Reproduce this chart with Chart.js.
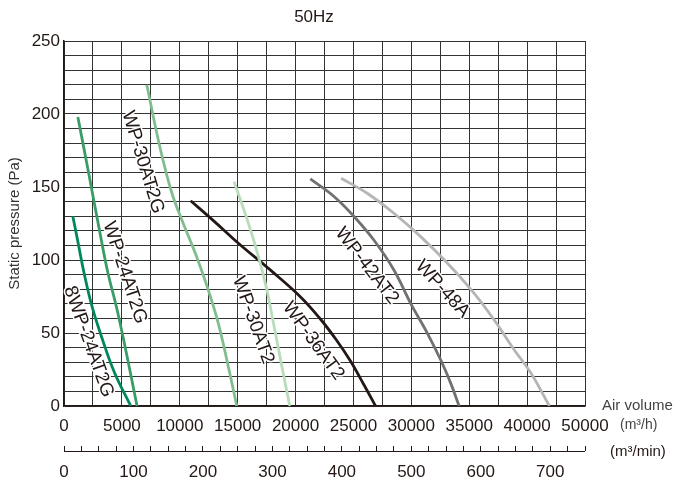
<!DOCTYPE html>
<html><head><meta charset="utf-8">
<script src="https://cdn.jsdelivr.net/npm/chart.js@4/dist/chart.umd.min.js"></script>
<style>html,body{margin:0;padding:0;background:#fff}#wrap{width:680px;height:481px}</style>
</head><body><div id="wrap"><canvas id="c" width="680" height="481"></canvas></div>
<script>
const FONT = '"Liberation Sans", Arial, sans-serif';
const chartTitle = '50Hz';
const yAxisTitle = 'Static pressure (Pa)';
const xAxisTitle = 'Air volume';
const xUnit = '(m³/h)';
const x2Unit = '(m³/min)';
const xTickLabels = ['0','5000','10000','15000','20000','25000','30000','35000','40000','50000'];
const x2TickLabels = ['0','100','200','300','400','500','600','700'];
const yTickLabels = ['0','50','100','150','200','250'];

const seriesNames = ['8WP-24AT2G','WP-24AT2G','WP-30AT2G','WP-30AT2','WP-36AT2','WP-42AT2','WP-48A'];
// [air volume m3/h, static pressure Pa]
const s8WP24AT2G = [[760,130],[1170,113.7],[1733,91.1],[2426,68],[3336,45.2],[4376,22.6],[5763,0]];
const sWP24AT2G = [[1196,198],[2166,158],[3224,113.7],[3796,91.1],[4524,68],[5156,45.2],[5737,22.6],[6309,0]];
const sWP30AT2G = [[7150,220],[8275,177.6],[9316,145.9],[10295,125.2],[11456,102.3],[12461,79.5],[13328,56.6],[14194,26.9],[14922,0]];
const sWP30AT2 = [[14690,153.6],[15928,125.2],[16795,102.3],[17523,79.5],[18095,56.6],[18823,26.9],[19498,0]];
const sWP36AT2 = [[10937,140.6],[12999,126.3],[15062,111.5],[17809,93.2],[20409,74.9],[22142,59.6],[23528,45.2],[24741,30.8],[25868,15.1],[26908,0]];
const sWP42AT2 = [[21275,155.5],[23294,143.7],[25028,130],[26761,113.7],[28494,93.2],[29941,70.3],[31388,49.8],[32541,31.5],[33408,15.5],[34127,0]];
const sWP48A = [[23935,156],[26188,145.7],[28494,132],[30807,116],[33121,97.8],[35426,77.2],[37159,58.9],[38893,38.4],[40339,22.4],[41925,0]];
const seriesData = [s8WP24AT2G, sWP24AT2G, sWP30AT2G, sWP30AT2, sWP36AT2, sWP42AT2, sWP48A];
const seriesColors = ['#00875a','#3a9c67','#80be8f','#b9ddba','#231815','#717171','#b5b5b5'];

// curve label anchors (data coords) and rotation in degrees
const labelAnchors = [[2123,44],[5243,91.4],[6803,167],[16335,58.9],[21535,44.5],[26165,95.9],[32688,80.1]];
const labelAngles = [70.3,71.8,73,70.4,54,52.2,47.6];

const extras = {
  id: 'extras',
  afterDatasetsDraw(chart) {
    const ctx = chart.ctx;
    const xs = chart.scales.x, ys = chart.scales.y;
    ctx.save();
    ctx.font = '19px ' + FONT;
    ctx.textAlign = 'center';
    ctx.textBaseline = 'middle';
    seriesNames.forEach((n, i) => {
      const px = xs.getPixelForValue(labelAnchors[i][0]);
      const py = ys.getPixelForValue(labelAnchors[i][1]);
      ctx.save();
      ctx.translate(px, py);
      ctx.rotate(labelAngles[i] * Math.PI / 180);
      ctx.lineWidth = 3;
      ctx.strokeStyle = '#fff';
      ctx.lineJoin = 'round';
      ctx.strokeText(n, 0, 0);
      ctx.fillStyle = '#231815';
      ctx.fillText(n, 0, 0);
      ctx.restore();
    });
    ctx.restore();
  },
  afterDraw(chart) {
    const ctx = chart.ctx;
    const x2 = chart.scales.x2, area = chart.chartArea;
    ctx.save();
    ctx.strokeStyle = '#231815';
    ctx.lineWidth = 1;
    const ly = Math.round(x2.top + 5) + 0.5;
    ctx.beginPath();
    ctx.moveTo(x2.getPixelForValue(0), ly);
    ctx.lineTo(x2.getPixelForValue(750), ly);
    ctx.stroke();
    ctx.fillStyle = '#231815';
    ctx.font = '17px ' + FONT;
    ctx.textAlign = 'center';
    ctx.textBaseline = 'middle';
    ctx.fillText(chartTitle, 314, 17);
    ctx.textAlign = 'left';
    ctx.fillStyle = '#444';
    ctx.font = '15px ' + FONT;
    ctx.fillText(xAxisTitle, area.right + 17, area.bottom);
    ctx.font = '14px ' + FONT;
    ctx.fillText(xUnit, area.right + 35, area.bottom + 19);
    ctx.fillStyle = '#231815';
    ctx.font = '15px ' + FONT;
    ctx.fillText(x2Unit, area.right + 25, ly);
    ctx.restore();
  }
};
const bg = {
  id: 'bg',
  beforeDraw(chart) {
    const ctx = chart.ctx;
    ctx.save(); ctx.fillStyle = '#fff'; ctx.fillRect(0, 0, chart.width, chart.height); ctx.restore();
  }
};

new Chart(document.getElementById('c'), {
  type: 'line',
  data: {
    datasets: seriesNames.map((n, i) => ({
      label: n,
      data: seriesData[i].map(p => ({x: p[0], y: p[1]})),
      borderColor: seriesColors[i],
      borderWidth: 2.8,
      pointRadius: 0,
      fill: false,
      tension: 0.4
    }))
  },
  options: {
    responsive: false,
    animation: false,
    devicePixelRatio: 1,
    layout: {padding: {left: 0, right: 95, top: 41, bottom: 0}},
    plugins: {legend: {display: false}, title: {display: false}, tooltip: {enabled: false}},
    scales: {
      x: {
        type: 'linear', position: 'bottom', weight: 0, min: 0, max: 45000,
        ticks: {stepSize: 2500, autoSkip: false, maxRotation: 0, padding: 10, color: '#231815',
          font: {size: 17, family: FONT},
          callback: v => (v % 5000 === 0 ? xTickLabels[v / 5000] : '')},
        grid: {color: '#333', lineWidth: 1, drawTicks: false},
        border: {color: '#231815', width: 1.5},
        afterFit: s => { s.height = 40; }
      },
      x2: {
        type: 'linear', position: 'bottom', weight: 1, min: 0, max: 750,
        ticks: {stepSize: 25, autoSkip: false, maxRotation: 0, padding: 11, color: '#231815',
          font: {size: 17, family: FONT},
          callback: v => (v % 100 === 0 && v <= 700 ? x2TickLabels[v / 100] : '')},
        grid: {drawOnChartArea: false, drawTicks: true, tickLength: 5, color: '#231815', lineWidth: 1},
        border: {display: false},
        afterFit: s => { s.height = 35; }
      },
      y: {
        min: 0, max: 250,
        ticks: {stepSize: 10, autoSkip: false, padding: 4, color: '#231815',
          font: {size: 17, family: FONT},
          callback: v => (v % 50 === 0 ? yTickLabels[v / 50] : '')},
        grid: {color: '#333', lineWidth: 1, drawTicks: false},
        border: {color: '#231815', width: 1.5},
        title: {display: true, text: yAxisTitle, color: '#333', font: {size: 15, family: FONT}, padding: {top: 6, bottom: 0}},
        afterFit: s => { s.width = 64; }
      }
    }
  },
  plugins: [bg, extras]
});
</script>
</body></html>
